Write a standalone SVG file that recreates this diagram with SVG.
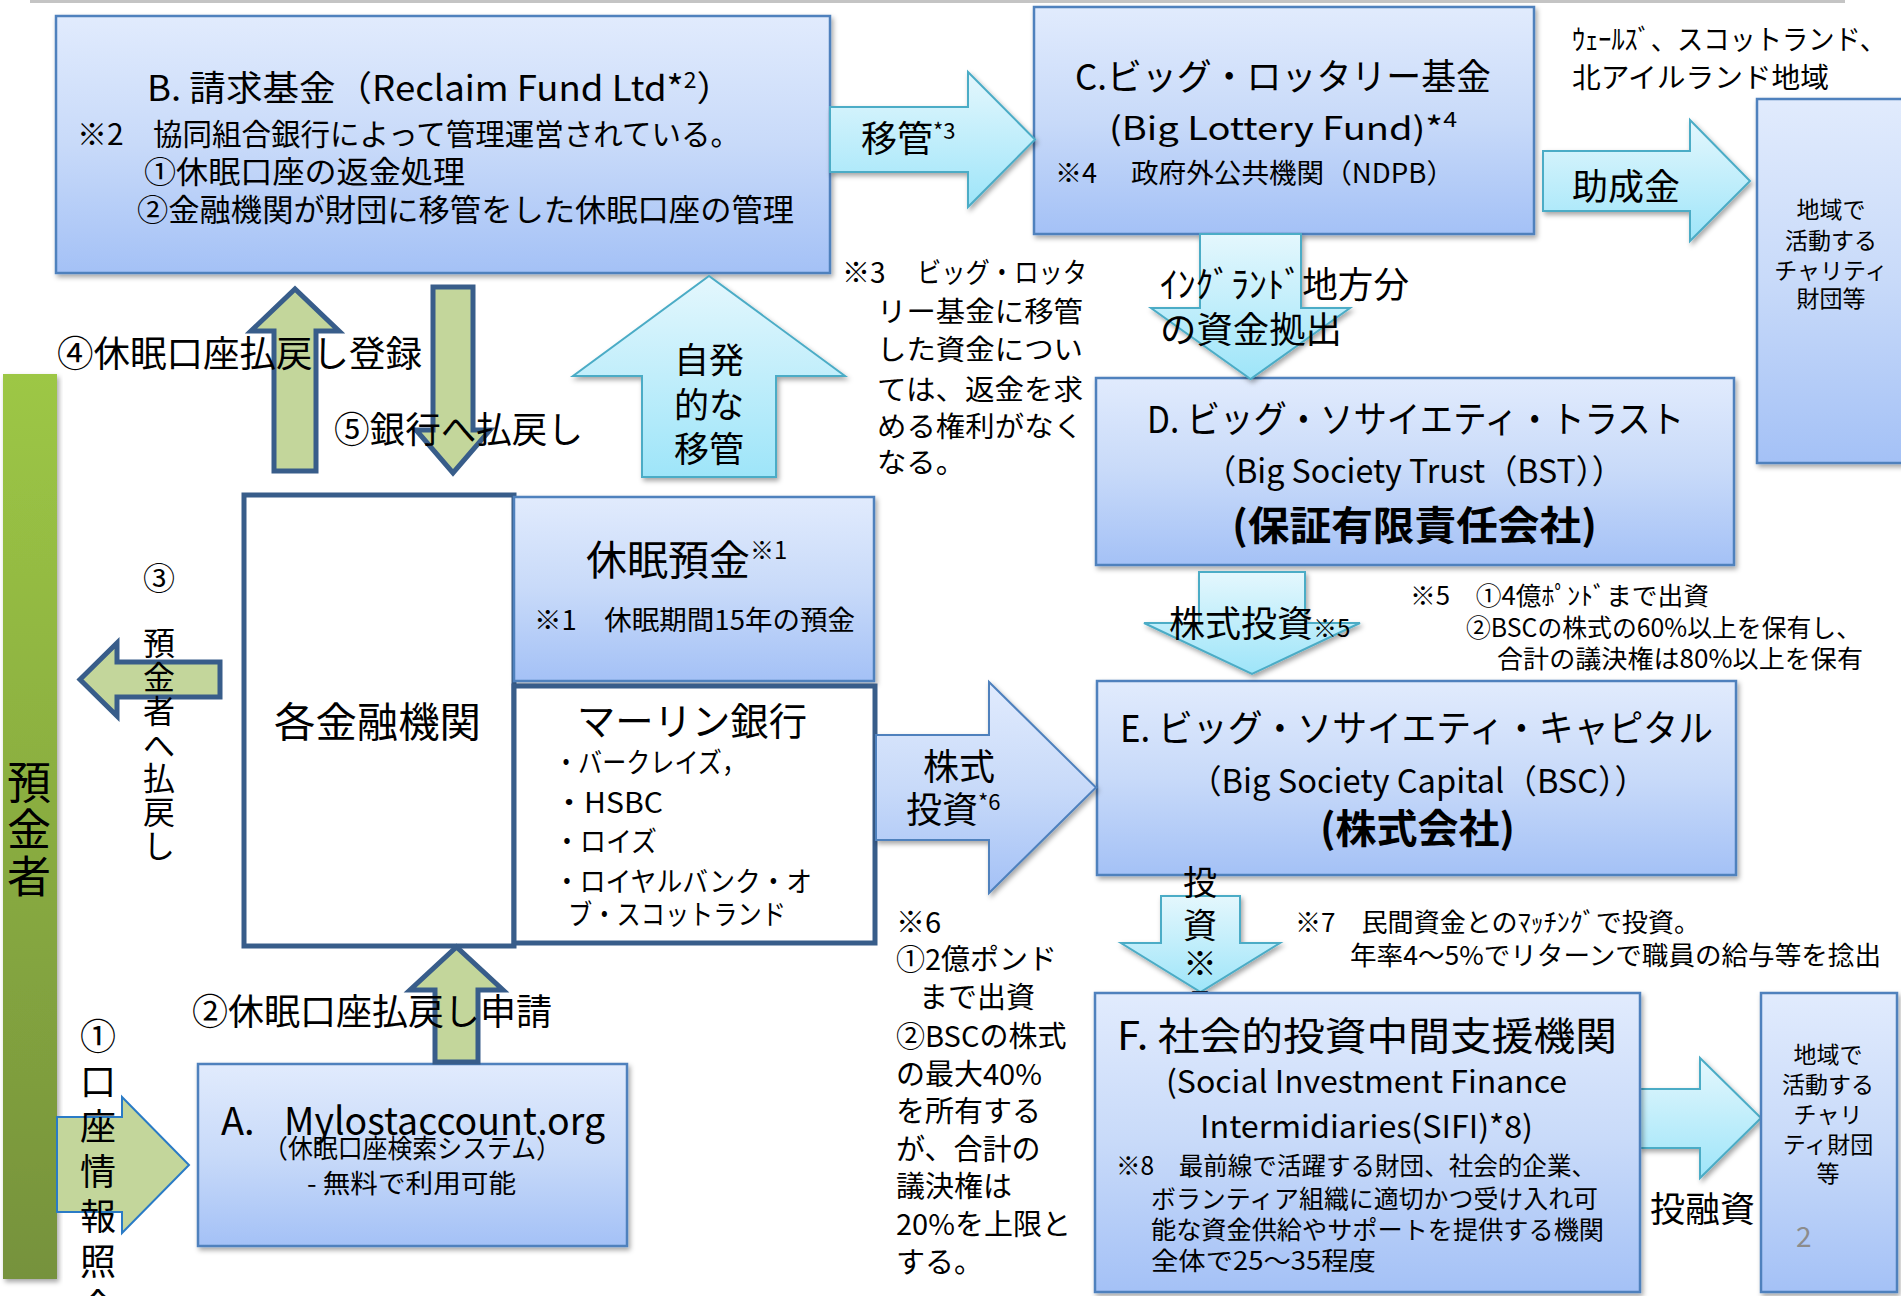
<svg xmlns="http://www.w3.org/2000/svg" width="1901" height="1296" viewBox="0 0 1901 1296">
<defs>
<linearGradient id="gb" x1="0" y1="0" x2="0" y2="1">
<stop offset="0" stop-color="#e1ebfd"/><stop offset="0.5" stop-color="#c8daf9"/><stop offset="1" stop-color="#a4c1f6"/>
</linearGradient>
<linearGradient id="gc" x1="0" y1="0" x2="0" y2="1">
<stop offset="0" stop-color="#e4f7fd"/><stop offset="1" stop-color="#9ee5f9"/>
</linearGradient>
<linearGradient id="gg" x1="0" y1="0" x2="0" y2="1">
<stop offset="0" stop-color="#9dc745"/><stop offset="1" stop-color="#76923c"/>
</linearGradient>
<filter id="sh" x="-10%" y="-10%" width="120%" height="125%">
<feDropShadow dx="2" dy="3" stdDeviation="2.5" flood-color="#000" flood-opacity="0.35"/>
</filter>
<style>
text{font-family:'Noto Sans CJK JP','Noto Sans',sans-serif;fill:#000}
.box{fill:url(#gb);stroke:#4f81bd;stroke-width:2.5;filter:url(#sh)}
.wbox{fill:#fff;stroke:#385d8a;stroke-width:5}
.cy{fill:url(#gc);stroke:#4bacc6;stroke-width:2;filter:url(#sh)}
.bl{fill:url(#gb);stroke:#4f81bd;stroke-width:2;filter:url(#sh)}
.gr{fill:#c3d69b;stroke:#385d8a;stroke-width:5;stroke-linejoin:miter}
.gr1{fill:#c3d69b;stroke:#2a7bc6;stroke-width:2}
.b{font-weight:700}
</style>
</defs>
<rect x="0" y="0" width="1901" height="1296" fill="#fff"/>
<line x1="30" y1="1.5" x2="1845" y2="1.5" stroke="#c4c4c4" stroke-width="3"/>

<g id="depositor">
<rect x="3" y="374" width="54" height="905" fill="url(#gg)" filter="url(#sh)"/>
<text font-size="44" text-anchor="middle"><tspan x="29" y="799">預</tspan><tspan x="29" y="846">金</tspan><tspan x="29" y="893">者</tspan></text>
</g>

<g id="node-B">
<rect class="box" x="56" y="16" width="774" height="257"/>
<text x="147" y="101" font-size="35" textLength="586" lengthAdjust="spacingAndGlyphs">B. 請求基金（Reclaim Fund Ltd*<tspan font-size="22" dy="-13">2</tspan><tspan dy="13">）</tspan></text>
<text x="77" y="145" font-size="30">※2</text>
<text x="153" y="145" font-size="30" textLength="587" lengthAdjust="spacingAndGlyphs">協同組合銀行によって管理運営されている。</text>
<text x="144" y="183" font-size="31" textLength="321" lengthAdjust="spacingAndGlyphs">①休眠口座の返金処理</text>
<text x="137" y="221" font-size="31" textLength="657" lengthAdjust="spacingAndGlyphs">②金融機関が財団に移管をした休眠口座の管理</text>
</g>

<g id="node-C">
<rect class="box" x="1034" y="7" width="500" height="227"/>
<text x="1075" y="90" font-size="36" textLength="416" lengthAdjust="spacingAndGlyphs">C.ビッグ・ロッタリー基金</text>
<text x="1109" y="140" font-size="32" textLength="348" lengthAdjust="spacingAndGlyphs">(Big Lottery Fund)*<tspan font-size="21" dy="-13">4</tspan></text>
<text x="1055" y="183" font-size="27">※4</text>
<text x="1131" y="183" font-size="27" textLength="323" lengthAdjust="spacingAndGlyphs">政府外公共機関（NDPB）</text>
</g>

<g id="node-charity1">
<rect class="box" x="1757" y="99" width="160" height="364"/>
<text font-size="23" text-anchor="middle"><tspan x="1831" y="218">地域で</tspan><tspan x="1831" y="249">活動する</tspan><tspan x="1831" y="279">チャリティ</tspan><tspan x="1831" y="307">財団等</tspan></text>
</g>

<g id="node-D">
<rect class="box" x="1096" y="378" width="638" height="187"/>
<text x="1147" y="433" font-size="37" textLength="537" lengthAdjust="spacingAndGlyphs">D. ビッグ・ソサイエティ・トラスト</text>
<text x="1204" y="483" font-size="33" textLength="420" lengthAdjust="spacingAndGlyphs">（Big Society Trust（BST））</text>
<text class="b" x="1232" y="540" font-size="40" textLength="365" lengthAdjust="spacingAndGlyphs">(保証有限責任会社)</text>
</g>

<g id="node-E">
<rect class="box" x="1097" y="681" width="639" height="194"/>
<text x="1120" y="742" font-size="37" textLength="593" lengthAdjust="spacingAndGlyphs">E. ビッグ・ソサイエティ・キャピタル</text>
<text x="1189" y="793" font-size="33" textLength="458" lengthAdjust="spacingAndGlyphs">（Big Society Capital（BSC））</text>
<text class="b" x="1320" y="843" font-size="40" textLength="195" lengthAdjust="spacingAndGlyphs">(株式会社)</text>
</g>

<g id="node-financial">
<rect class="wbox" x="244" y="495" width="270" height="451"/>
<text x="274" y="737" font-size="41" textLength="207" lengthAdjust="spacingAndGlyphs">各金融機関</text>
</g>

<g id="node-dormant">
<rect class="box" x="514" y="497" width="360" height="184"/>
<text x="586" y="575" font-size="41">休眠預金<tspan font-size="24" dy="-16">※1</tspan></text>
<text x="534" y="630" font-size="27" textLength="321" lengthAdjust="spacingAndGlyphs">※1　休眠期間15年の預金</text>
</g>

<g id="node-merlin">
<rect class="wbox" x="514" y="686" width="361" height="257"/>
<text x="577" y="735" font-size="38" textLength="230" lengthAdjust="spacingAndGlyphs">マーリン銀行</text>
<text x="554" y="773" font-size="28" textLength="192" lengthAdjust="spacingAndGlyphs">・バークレイズ，</text>
<text x="554" y="813" font-size="28" textLength="109" lengthAdjust="spacingAndGlyphs">・HSBC</text>
<text x="554" y="852" font-size="28" textLength="103" lengthAdjust="spacingAndGlyphs">・ロイズ</text>
<text x="554" y="892" font-size="28" textLength="258" lengthAdjust="spacingAndGlyphs">・ロイヤルバンク・オ</text>
<text x="568" y="925" font-size="28" textLength="218" lengthAdjust="spacingAndGlyphs">ブ・スコットランド</text>
</g>

<g id="node-A">
<rect class="box" x="198" y="1064" width="429" height="182"/>
<text x="221" y="1135" font-size="38">A.</text>
<text x="284" y="1135" font-size="38" textLength="321" lengthAdjust="spacingAndGlyphs">Mylostaccount.org</text>
<text x="263" y="1158" font-size="26" textLength="298" lengthAdjust="spacingAndGlyphs">（休眠口座検索システム）</text>
<text x="307" y="1193" font-size="26" textLength="209" lengthAdjust="spacingAndGlyphs">- 無料で利用可能</text>
</g>

<g id="notes">
<text x="1572" y="50" font-size="28" textLength="314" lengthAdjust="spacingAndGlyphs">ｳｪｰﾙｽﾞ、スコットランド、</text>
<text x="1572" y="88" font-size="28" textLength="257" lengthAdjust="spacingAndGlyphs">北アイルランド地域</text>
<text x="842" y="283" font-size="28">※3</text>
<text x="917" y="283" font-size="28" textLength="170" lengthAdjust="spacingAndGlyphs">ビッグ・ロッタ</text>
<text x="877" y="322" font-size="28" textLength="206" lengthAdjust="spacingAndGlyphs">リー基金に移管</text>
<text x="877" y="360" font-size="28" textLength="206" lengthAdjust="spacingAndGlyphs">した資金につい</text>
<text x="877" y="400" font-size="28" textLength="206" lengthAdjust="spacingAndGlyphs">ては、返金を求</text>
<text x="877" y="437" font-size="28" textLength="206" lengthAdjust="spacingAndGlyphs">める権利がなく</text>
<text x="877" y="473" font-size="28" textLength="88" lengthAdjust="spacingAndGlyphs">なる。</text>
<text x="1410" y="605" font-size="25" textLength="299" lengthAdjust="spacingAndGlyphs">※5　①4億ﾎﾟﾝﾄﾞまで出資</text>
<text x="1466" y="637" font-size="25" textLength="395" lengthAdjust="spacingAndGlyphs">②BSCの株式の60%以上を保有し、</text>
<text x="1497" y="668" font-size="25" textLength="366" lengthAdjust="spacingAndGlyphs">合計の議決権は80%以上を保有</text>
<text font-size="29">
<tspan x="896" y="933">※6</tspan>
<tspan x="896" y="970">①2億ポンド</tspan>
<tspan x="919" y="1008">まで出資</tspan>
<tspan x="896" y="1047">②BSCの株式</tspan>
<tspan x="896" y="1085">の最大40%</tspan>
<tspan x="896" y="1122">を所有する</tspan>
<tspan x="896" y="1160">が、合計の</tspan>
<tspan x="896" y="1197">議決権は</tspan>
<tspan x="896" y="1235">20%を上限と</tspan>
<tspan x="896" y="1273">する。</tspan>
</text>
<text x="1295" y="932" font-size="26" textLength="405" lengthAdjust="spacingAndGlyphs">※7　民間資金とのﾏｯﾁﾝｸﾞで投資。</text>
<text x="1350" y="965" font-size="26" textLength="531" lengthAdjust="spacingAndGlyphs">年率4～5%でリターンで職員の給与等を捻出</text>
</g>

<g id="connectors">
<polygon class="cy" points="830,107 968,107 968,72 1035,139.5 968,207 968,172 830,172"/>
<text x="861" y="152" font-size="36">移管<tspan font-size="22" dy="-13">*3</tspan></text>

<polygon class="cy" points="1543,151 1690,151 1690,120 1750,181 1690,241 1690,211 1543,211"/>
<text x="1572" y="200" font-size="36">助成金</text>

<polygon class="cy" points="1200,234 1301,234 1301,308 1350,308 1250.5,379 1151,308 1200,308"/>
<text x="1160" y="298" font-size="36" textLength="249" lengthAdjust="spacingAndGlyphs">ｲﾝｸﾞﾗﾝﾄﾞ地方分</text>
<text x="1160" y="343" font-size="36" textLength="182" lengthAdjust="spacingAndGlyphs">の資金拠出</text>

<polygon class="cy" points="1199,572 1305,572 1305,623 1360,623 1252,674 1144,623 1199,623"/>
<text x="1169" y="637" font-size="36">株式投資<tspan font-size="24">※5</tspan></text>

<polygon class="bl" points="876,735 989,735 989,682 1096,787.5 989,893 989,840 876,840"/>
<text x="923" y="780" font-size="36">株式</text>
<text x="906" y="823" font-size="36">投資<tspan font-size="22" dy="-13">*6</tspan></text>

<polygon class="cy" points="1161,896 1240,896 1240,943 1280,943 1200.5,992 1121,943 1161,943"/>
<text font-size="34" text-anchor="middle"><tspan x="1200" y="895">投</tspan><tspan x="1200" y="938">資</tspan><tspan x="1200" y="976">※</tspan><tspan x="1200" y="1016">7</tspan></text>

<polygon class="cy" points="642,477 776,477 776,376 845,376 709,276 573,376 642,376"/>
<text font-size="35" text-anchor="middle"><tspan x="709" y="373">自発</tspan><tspan x="709" y="418">的な</tspan><tspan x="709" y="462">移管</tspan></text>

<polygon class="gr" points="274,471 316,471 316,331 339,331 295,289 251,331 274,331"/>
<text x="57" y="367" font-size="36" textLength="365" lengthAdjust="spacingAndGlyphs">④休眠口座払戻し登録</text>

<polygon class="gr" points="433,287 473,287 473,430 490,430 453,473 416,430 433,430"/>
<text x="334" y="443" font-size="36" textLength="249" lengthAdjust="spacingAndGlyphs">⑤銀行へ払戻し</text>

<polygon class="gr" points="220,662 220,697 117,697 117,716 80,679.5 117,643 117,662"/>
<text font-size="32" text-anchor="middle"><tspan x="159" y="590">③</tspan><tspan x="159" y="655">預</tspan><tspan x="159" y="689">金</tspan><tspan x="159" y="723">者</tspan><tspan x="159" y="757">へ</tspan><tspan x="159" y="790">払</tspan><tspan x="159" y="824">戻</tspan><tspan x="159" y="858">し</tspan></text>

<polygon class="gr" points="435,1062 478,1062 478,990 503,990 456.5,947 410,990 435,990"/>
<text x="192" y="1025" font-size="36" textLength="360" lengthAdjust="spacingAndGlyphs">②休眠口座払戻し申請</text>

<polygon class="gr1" points="57,1117 122,1117 122,1097 189,1165 122,1233 122,1212 57,1212"/>
<text font-size="36" text-anchor="middle"><tspan x="98" y="1050">①</tspan><tspan x="98" y="1095">口</tspan><tspan x="98" y="1140">座</tspan><tspan x="98" y="1185">情</tspan><tspan x="98" y="1230">報</tspan><tspan x="98" y="1275">照</tspan><tspan x="98" y="1320">会</tspan></text>

<polygon class="cy" points="1640,1089 1700,1089 1700,1058 1761,1118 1700,1178 1700,1148 1640,1148"/>
<text x="1650" y="1222" font-size="35">投融資</text>
</g>

<g id="node-F">
<rect class="box" x="1095" y="993" width="545" height="299"/>
<text x="1117" y="1050" font-size="39" textLength="500" lengthAdjust="spacingAndGlyphs">F. 社会的投資中間支援機関</text>
<text x="1166" y="1093" font-size="31" textLength="401" lengthAdjust="spacingAndGlyphs">(Social Investment Finance</text>
<text x="1200" y="1138" font-size="31" textLength="333" lengthAdjust="spacingAndGlyphs">Intermidiaries(SIFI)*8)</text>
<text x="1116" y="1175" font-size="25" textLength="480" lengthAdjust="spacingAndGlyphs">※8　最前線で活躍する財団、社会的企業、</text>
<text x="1151" y="1208" font-size="25" textLength="447" lengthAdjust="spacingAndGlyphs">ボランティア組織に適切かつ受け入れ可</text>
<text x="1151" y="1239" font-size="25" textLength="453" lengthAdjust="spacingAndGlyphs">能な資金供給やサポートを提供する機関</text>
<text x="1151" y="1270" font-size="25" textLength="225" lengthAdjust="spacingAndGlyphs">全体で25～35程度</text>
</g>

<g id="node-charity2">
<rect class="box" x="1761" y="993" width="136" height="299"/>
<text font-size="23" text-anchor="middle"><tspan x="1828" y="1063">地域で</tspan><tspan x="1828" y="1093">活動する</tspan><tspan x="1828" y="1123">チャリ</tspan><tspan x="1828" y="1153">ティ財団</tspan><tspan x="1828" y="1182">等</tspan></text>
<text x="1796" y="1247" font-size="28" style="fill:#8c8c8c">2</text>
</g>
</svg>
